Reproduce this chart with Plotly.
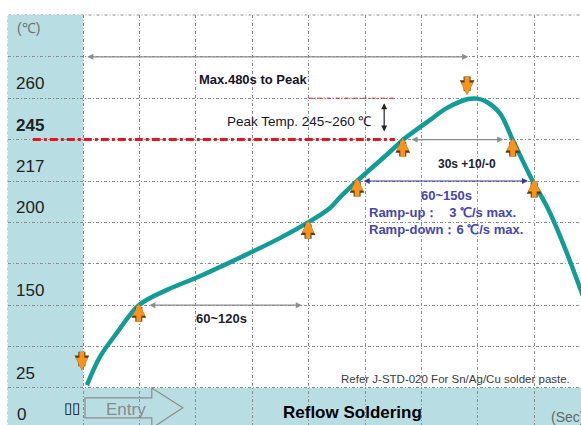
import plotly.graph_objects as go

# ---- data (grid units: x = time column, y = temperature row) ----
profile_col = [0.07, 0.30, 0.60, 0.99, 1.49, 2.07, 3.00, 3.49, 3.99, 4.38, 4.56, 4.86,
               5.44, 5.67, 6.15, 6.45, 6.83, 6.99, 7.16, 7.39, 7.62, 7.98, 8.23, 8.51, 8.87]
profile_row = [0.07, 0.75, 1.33, 2.00, 2.37, 2.70, 3.29, 3.62, 4.00, 4.35, 4.61, 5.00,
               5.70, 5.99, 6.47, 6.76, 6.98, 6.99, 6.91, 6.64, 5.99, 4.98, 4.37, 3.50, 2.20]

temp_rows = [0, 1, 2, 3, 4, 5, 6, 7, 8]
temp_labels = ["25", "", "150", "", "200", "217", "<b>245</b>", "260", ""]
time_cols = [0, 1, 2, 3, 4, 5, 6, 7, 8]

up_arrow_col = [0.99, 3.99, 4.86, 5.67, 7.62, 8.00]
up_arrow_row = [2.05, 4.05, 5.07, 6.04, 6.04, 5.05]
down_arrow_col = [-0.02, 6.81]
down_arrow_row = [0.43, 7.08]

XR = [-1.33, 8.83]
YR = [-0.894, 9.01]

FONT = "Liberation Sans, Arial, sans-serif"
GRID = "#8c8c8c"
BLUE = "#b8dee4"
TEAL = "#129c96"
NAVY = "#4646b0"

fig = go.Figure()

fig.add_trace(go.Scatter(x=profile_col, y=profile_row, mode="lines",
                         line=dict(color=TEAL, width=4.5, shape="spline", smoothing=1.0),
                         hoverinfo="skip", showlegend=False))

shapes = [
    dict(type="rect", xref="x", yref="y", x0=XR[0], x1=0, y0=YR[0], y1=YR[1],
         fillcolor=BLUE, line_width=0, layer="below"),
    dict(type="rect", xref="x", yref="y", x0=0, x1=XR[1], y0=YR[0], y1=0,
         fillcolor=BLUE, line_width=0, layer="below"),
    dict(type="rect", xref="paper", yref="paper", x0=0, x1=1.01, y0=-0.01, y1=1,
         line=dict(color=GRID, width=1, dash="3px,2px,1px,2px"), layer="below"),
    # red lines
    dict(type="line", xref="x", yref="y", x0=-0.89, x1=5.53, y0=6, y1=6,
         line=dict(color="#e8141b", width=3, dash="8px,3px,3px,3px")),
    dict(type="line", xref="x", yref="y", x0=4.0, x1=5.5, y0=7, y1=7,
         line=dict(color="#e8141b", width=1, dash="4px,2px,1px,2px")),
    # entry arrow outline
    dict(type="path", xref="x", yref="y",
         path="M 0.035,-0.24 L 1.22,-0.24 L 1.22,0.0 L 1.77,-0.48 L 1.22,-0.97 L 1.22,-0.72 L 0.035,-0.72 Z",
         line=dict(color="#8c8c8c", width=1.2), fillcolor="rgba(0,0,0,0)"),
]

ann = []

def dbl(x0, x1, y0, y1, color, width=1.2):
    ann.append(dict(x=x1, y=y1, ax=x0, ay=y0, xref="x", yref="y", axref="x", ayref="y",
                    text="", showarrow=True, arrowside="end+start", arrowhead=2,
                    arrowsize=1, arrowwidth=width, arrowcolor=color,
                    standoff=0, startstandoff=0))

dbl(0.05, 6.83, 8, 8, GRID)
dbl(5.80, 7.45, 6, 6, GRID)
dbl(4.95, 7.89, 5, 5, "#3a3a98")
dbl(1.15, 3.88, 2, 2, GRID)
dbl(5.34, 5.34, 6.16, 6.88, "#222222", 1.2)

def block(x, y, dy):
    for col, w, s in (("#5a3a10", 7, 0.42), ("#f7931e", 5, 0.5)):
        ann.append(dict(x=x, y=y, ax=0, ay=dy, xref="x", yref="y",
                        text="", showarrow=True, arrowhead=2, arrowsize=s,
                        arrowwidth=w, arrowcolor=col, standoff=0))

for cx, cy in zip(up_arrow_col, up_arrow_row):
    block(cx, cy, 20)
for cx, cy in zip(down_arrow_col, down_arrow_row):
    block(cx, cy, -20)

def txt(s, x, y, size, color="#1e1e30", bold=False, xanchor="center"):
    if bold:
        s = "<b>" + s + "</b>"
    ann.append(dict(x=x, y=y, xref="x", yref="y", text=s, showarrow=False,
                    xanchor=xanchor, yanchor="middle",
                    font=dict(family=FONT, size=size, color=color)))

txt("Max.480s to Peak", 3.01, 7.46, 13, color="#15152a", bold=True)
txt("Peak Temp. 245~260 ℃", 3.83, 6.43, 13.5, color="#15152a")
txt("30s +10/-0", 6.81, 5.41, 12, bold=True)
txt("60~150s", 6.44, 4.66, 13, color=NAVY, bold=True)
txt("Ramp-up：   3 ℃/s max.", 5.04, 4.25, 13, color=NAVY, bold=True, xanchor="left")
txt("Ramp-down：6 ℃/s max.", 5.04, 3.84, 13, color=NAVY, bold=True, xanchor="left")
txt("60~120s", 2.45, 1.67, 13, bold=True)
txt("Refer J-STD-020 For Sn/Ag/Cu solder paste.", 6.61, 0.22, 11.5, color="#3a3a3a")
txt("Reflow Soldering", 4.77, -0.60, 17, color="#000000", bold=True)
txt("Entry", 0.76, -0.51, 17, color="#8a8a8a")
txt("▯▯", -0.20, -0.48, 15, color="#000000")
txt("(Sec)", 8.27, -0.70, 14, color="#666666", xanchor="left")
txt("(℃)", -1.2, 8.69, 14, color="#707070", xanchor="left")
txt("0", -1.2, -0.63, 17, color="#222222", xanchor="left")

fig.update_layout(
    width=581, height=425,
    margin=dict(l=8, r=0, t=15, b=0, pad=0),
    paper_bgcolor="white", plot_bgcolor="white",
    shapes=shapes, annotations=ann, showlegend=False,
    font=dict(family=FONT, color="#222222"),
    xaxis=dict(range=XR, tickvals=time_cols, showticklabels=False, ticks="",
               showgrid=True, gridcolor=GRID, gridwidth=1, griddash="3px,2px,1px,2px",
               zeroline=False, showline=False, fixedrange=True),
    yaxis=dict(range=YR, tickvals=temp_rows, ticktext=temp_labels, ticks="",
               ticklabelposition="inside", ticklabelshift=-15, ticklabelstandoff=5,
               tickfont=dict(family=FONT, size=17, color="#222222"),
               showgrid=True, gridcolor=GRID, gridwidth=1, griddash="3px,2px,1px,2px",
               zeroline=False, showline=False, fixedrange=True),
)

# remove the browser's default page margin so the figure fills the window exactly
fig.write_html("out.html", config={"displayModeBar": False},
               post_script="document.body.style.margin='0';document.body.style.overflow='hidden';")
